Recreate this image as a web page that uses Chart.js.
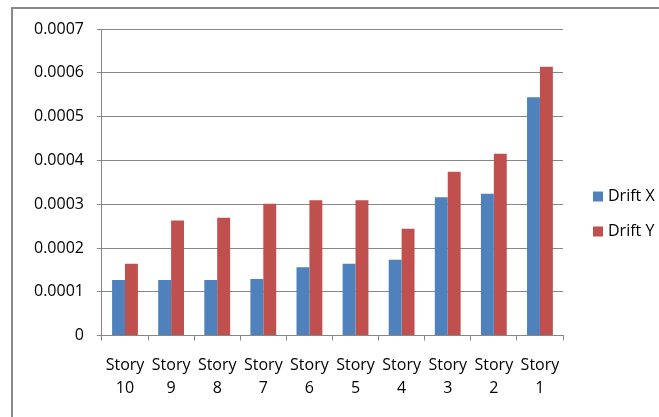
<!DOCTYPE html>
<html>
<head>
<meta charset="utf-8">
<script src="https://cdn.jsdelivr.net/npm/chart.js@4/dist/chart.umd.min.js"></script>
<style>
html,body{margin:0;padding:0;background:#fff;}
#wrap{position:relative;width:659px;height:417px;}
</style>
</head>
<body>
<div id="wrap"><canvas id="c" width="659" height="417"></canvas></div>
<script>
const categories = ['Story 10','Story 9','Story 8','Story 7','Story 6','Story 5','Story 4','Story 3','Story 2','Story 1'];
const driftX = [0.000127,0.000127,0.000127,0.000129,0.000156,0.000164,0.000173,0.000316,0.000324,0.000544];
const driftY = [0.000164,0.000263,0.000269,0.000301,0.000309,0.000309,0.000244,0.000374,0.000415,0.000614];
const yTickValues = [0,0.0001,0.0002,0.0003,0.0004,0.0005,0.0006,0.0007];
const yTickLabels = ['0','0.0001','0.0002','0.0003','0.0004','0.0005','0.0006','0.0007'];
const seriesNames = ['Drift X','Drift Y'];
const seriesColors = ['#4F81BD','#C0504D'];

const FONT = '"Open Sans", sans-serif';
const GRID = '#878787';

const frame = {
  id:'frame',
  beforeDraw(chart){
    const ctx = chart.ctx;
    ctx.save();
    ctx.fillStyle = '#fff';
    ctx.fillRect(0,0,chart.width,chart.height);
    ctx.strokeStyle = '#8a8a8a';
    ctx.lineWidth = 2;
    ctx.strokeRect(12,8,800,600);
    ctx.restore();
  }
};

const sideLegend = {
  id:'sideLegend',
  afterDraw(chart){
    const ctx = chart.ctx;
    const area = chart.chartArea;
    ctx.save();
    ctx.font = '16px ' + FONT;
    ctx.textBaseline = 'middle';
    ctx.textAlign = 'left';
    const x0 = area.right + 30;
    const yMid = 214;
    const step = 35;
    chart.data.datasets.forEach((ds, i) => {
      const y = yMid + (i - (chart.data.datasets.length - 1) / 2) * step;
      ctx.fillStyle = ds.backgroundColor;
      ctx.fillRect(x0, y - 5, 10, 10);
      ctx.fillStyle = '#000';
      ctx.fillText(ds.label, x0 + 15, y);
    });
    ctx.restore();
  }
};

new Chart(document.getElementById('c'), {
  type:'bar',
  data:{
    labels: categories.map(c => c.split(' ')),
    datasets:[
      {label:seriesNames[0], data:driftX, backgroundColor:seriesColors[0], borderWidth:0},
      {label:seriesNames[1], data:driftY, backgroundColor:seriesColors[1], borderWidth:0}
    ]
  },
  options:{
    responsive:false,
    animation:false,
    devicePixelRatio:1,
    layout:{padding:{left:21, top:29, right:96, bottom:4}},
    datasets:{bar:{categoryPercentage:0.56, barPercentage:1}},
    plugins:{legend:{display:false}, tooltip:{enabled:false}},
    scales:{
      x:{
        grid:{display:true, offset:true, drawOnChartArea:false, drawTicks:true, tickLength:5, color:GRID},
        border:{display:true, color:GRID, width:1},
        ticks:{color:'#000', font:{family:FONT, size:16, lineHeight:1.45}, padding:13, maxRotation:0, autoSkip:false}
      },
      y:{
        min:0, max:0.0007,
        afterBuildTicks(scale){ scale.ticks = yTickValues.map(v => ({value:v})); },
        grid:{color:GRID, tickLength:5, drawTicks:true},
        border:{display:true, color:GRID, width:1},
        ticks:{color:'#000', font:{family:FONT, size:16}, padding:13,
          callback:(v, i) => yTickLabels[i]}
      }
    }
  },
  plugins:[frame, sideLegend]
});
</script>
</body>
</html>
